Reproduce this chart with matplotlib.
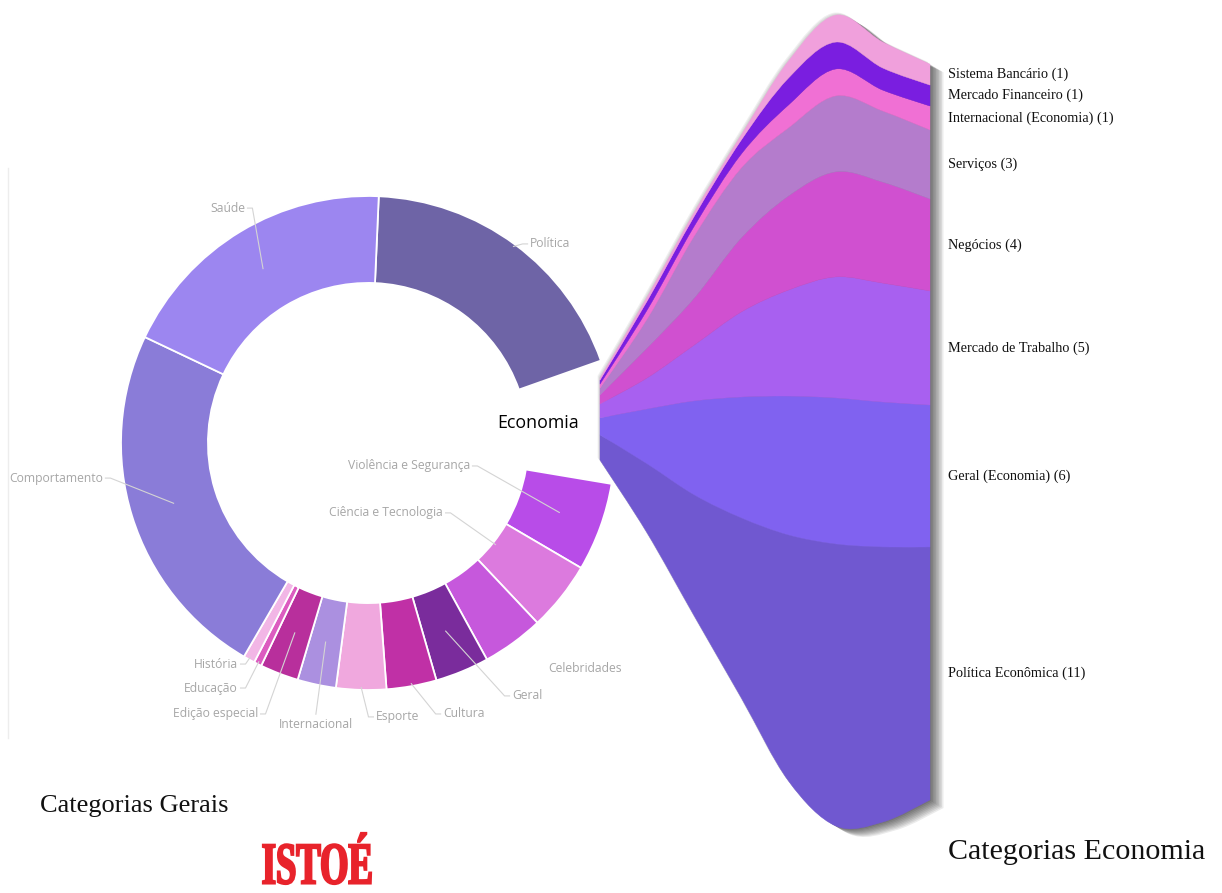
import numpy as np
import matplotlib
matplotlib.use("Agg")
import matplotlib.pyplot as plt
from matplotlib.path import Path
from matplotlib.patches import PathPatch
from matplotlib.textpath import TextPath
from matplotlib.font_manager import FontProperties
from matplotlib.transforms import Affine2D, offset_copy
from matplotlib.lines import Line2D

W, H = 1222, 893

# ---- donut: general categories (clockwise from the top) ----
gerais_labels = ["Política", "Economia", "Violência e Segurança", "Ciência e Tecnologia",
                 "Celebridades", "Geral", "Cultura", "Esporte", "Internacional",
                 "Edição especial", "Educação", "História", "Comportamento", "Saúde"]
gerais_values = [75, 32, 23, 18, 16, 14, 13, 13, 10, 10, 2, 3, 94, 74]
gerais_colors = ["#6e64a6", "#ffffff", "#b84ce8", "#dc7ade", "#c658dc", "#7a2c9c",
                 "#c030a6", "#f0a8de", "#ab90e0", "#b82f9c", "#dc5cc0", "#f2b6e6",
                 "#8a7cd8", "#9c86f0"]

# ---- stream: economy sub-categories (bottom to top) ----
econ_labels = ["Política Econômica", "Geral (Economia)", "Mercado de Trabalho", "Negócios",
               "Serviços", "Internacional (Economia)", "Mercado Financeiro", "Sistema Bancário"]
econ_counts = [11, 6, 5, 4, 3, 1, 1, 1]
econ_colors = ["#7058d0", "#8062f0", "#a860f0", "#d050d0",
               "#b47ccc", "#f070d4", "#7a1ee0", "#f0a0dc"]
stations = [0, 1, 2, 3, 4, 5, 6, 7]
stream_base = [16.0, 12.83, 9.22, 5.65, 2.04, 0.09, 0.26, 1.22]
stream_pe = [1.09, 3.0, 5.26, 7.83, 10.7, 12.26, 11.96, 11.0]
stream_geral = [0.74, 2.39, 4.09, 5.26, 6.04, 6.35, 6.30, 6.17]
stream_trabalho = [0.61, 1.35, 2.43, 3.70, 4.61, 5.26, 5.17, 4.96]
stream_negocios = [0.39, 1.30, 2.04, 3.22, 4.09, 4.57, 4.39, 4.0]
stream_servicos = [0.30, 1.26, 2.70, 3.04, 2.96, 3.30, 3.09, 3.0]
stream_intl = [0.17, 0.39, 0.43, 0.61, 1.0, 1.17, 0.91, 1.04]
stream_financeiro = [0.17, 0.39, 0.43, 0.61, 1.17, 1.17, 0.96, 0.91]
stream_bancario = [0.09, 0.17, 0.17, 0.22, 0.74, 1.17, 1.13, 0.91]
stream_bands = [stream_pe, stream_geral, stream_trabalho, stream_negocios,
                stream_servicos, stream_intl, stream_financeiro, stream_bancario]

fig = plt.figure(figsize=(W / 100, H / 100), dpi=100)
fig.patch.set_facecolor("white")

# faint frame of the donut image
fig.add_artist(Line2D([8 / W, 8 / W], [1 - 168 / H, 1 - 738 / H], color="#ededed", lw=1))

# ---------------- donut ----------------
R = 247
cx, cy = 368, 443
ax = fig.add_axes([(cx - R) / W, (H - cy - R) / H, 2 * R / W, 2 * R / H])
wedges, _ = ax.pie(gerais_values, colors=gerais_colors, startangle=87.5, counterclock=False,
                   radius=1, wedgeprops=dict(width=0.352, edgecolor="white", linewidth=1.3))
wedges[1].set_visible(False)
ax.set_xlim(-1, 1)
ax.set_ylim(-1, 1)
ax.set_aspect("equal")
ax.axis("off")

lab_font = "Open Sans"
lab_color = "#a6a6a6"
# label placement: (x, y, ha, leader radius)
lab_pos = {
    "Saúde": (-0.498, 0.951, "right", 0.824),
    "Política": (0.656, 0.806, "left", 0.99),
    "Comportamento": (-1.073, -0.142, "right", 0.824),
    "Violência e Segurança": (0.413, -0.093, "right", 0.824),
    "Ciência e Tecnologia": (0.304, -0.283, "right", 0.66),
    "Celebridades": (0.729, -0.911, "left", None),
    "Geral": (0.583, -1.024, "left", 0.824),
    "Cultura": (0.304, -1.097, "left", 0.99),
    "Esporte": (0.032, -1.109, "left", 0.99),
    "Internacional": (-0.211, -1.138, "center", 0.824),
    "Edição especial": (-0.445, -1.097, "right", 0.824),
    "Educação": (-0.526, -0.992, "right", 0.99),
    "História": (-0.526, -0.895, "right", 0.99),
}
for w, name in zip(wedges, gerais_labels):
    if name not in lab_pos:
        continue
    lx, ly, ha, rr = lab_pos[name]
    ax.text(lx, ly, name, ha=ha, va="center", fontsize=8.7, color=lab_color,
            family=lab_font, clip_on=False)
    if rr is None:
        continue
    mid = np.deg2rad((w.theta1 + w.theta2) / 2)
    tx, ty = rr * np.cos(mid), rr * np.sin(mid)
    if ha == "right":
        xs, ys = [lx + 0.01, lx + 0.03, tx], [ly, ly, ty]
    elif ha == "left":
        xs, ys = [lx - 0.01, lx - 0.03, tx], [ly, ly, ty]
    else:
        xs, ys = [lx, tx], [ly + 0.04, ty]
    ax.plot(xs, ys, color="#d4d4d4", lw=0.8, clip_on=False, zorder=3)

ax.text(0.688, 0.081, "Economia", ha="center", va="center", fontsize=12.8,
        family=lab_font, color="black", clip_on=False)

# ---------------- stream ----------------
unit = 23.0
ax2 = fig.add_axes([600 / W, (H - 828) / H, 330 / W, 828 / H])
ax2.set_xlim(0, 7)
ax2.set_ylim(0, 828 / unit)
ax2.axis("off")


def catmull(xs, ys):
    n = len(xs)
    pts = []
    for i in range(n - 1):
        i0, i3 = max(i - 1, 0), min(i + 2, n - 1)
        c1 = (xs[i] + (xs[i + 1] - xs[i0]) / 6, ys[i] + (ys[i + 1] - ys[i0]) / 6)
        c2 = (xs[i + 1] - (xs[i3] - xs[i]) / 6, ys[i + 1] - (ys[i3] - ys[i]) / 6)
        pts += [c1, c2, (xs[i + 1], ys[i + 1])]
    return pts


def band_path(xs, lower, upper):
    n = len(xs)
    verts = [(xs[0], lower[0])] + catmull(xs, lower)
    codes = [Path.MOVETO] + [Path.CURVE4] * (3 * (n - 1))
    verts.append((xs[-1], upper[-1]))
    codes.append(Path.LINETO)
    verts += catmull(xs[::-1], upper[::-1])
    codes += [Path.CURVE4] * (3 * (n - 1))
    verts.append((xs[0], lower[0]))
    codes.append(Path.CLOSEPOLY)
    return Path(verts, codes)


xs = list(stations)
base = np.array(stream_base)
tops = base + np.cumsum(np.array(stream_bands), axis=0)[-1]
outline = band_path(xs, list(base), list(tops))

# soft drop shadow
for k in range(1, 10):
    tr = offset_copy(ax2.transData, fig=fig, x=1.5 * k, y=-0.9 * k, units="dots")
    ax2.add_patch(PathPatch(outline, transform=tr, facecolor="black", edgecolor="none",
                            alpha=0.08, zorder=1, clip_on=False))
for k in range(1, 4):
    tr = offset_copy(ax2.transData, fig=fig, x=-0.8 * k, y=0.8 * k, units="dots")
    ax2.add_patch(PathPatch(outline, transform=tr, facecolor="black", edgecolor="none",
                            alpha=0.06, zorder=1, clip_on=False))

lower = base.copy()
for vals, col, name, cnt in zip(stream_bands, econ_colors, econ_labels, econ_counts):
    upper = lower + np.array(vals)
    ax2.add_patch(PathPatch(band_path(xs, list(lower), list(upper)), facecolor=col,
                            edgecolor=col, lw=0.3, zorder=2, clip_on=False))
    mid = (lower[-1] + upper[-1]) / 2
    ax2.annotate(f"{name} ({cnt})", xy=(xs[-1], mid), xytext=(18, 0),
                 textcoords="offset pixels", va="center", ha="left", fontsize=10.3,
                 family="Liberation Serif", color="#111111", annotation_clip=False)
    lower = upper

# ---------------- titles and logo ----------------
fig.text(40 / W, 1 - 806 / H, "Categorias Gerais", fontsize=19, family="Liberation Serif",
         va="center", ha="left", color="#111111")
fig.text(948 / W, 1 - 852 / H, "Categorias Economia", fontsize=21.6, family="Liberation Serif",
         va="center", ha="left", color="#111111")

tp = TextPath((0, 0), "ISTOÉ", size=10,
              prop=FontProperties(family="Liberation Serif", weight="bold"))
bb = tp.get_extents()
lx0, lx1, ly0, ly1 = 263, 371, H - 884, H - 833
logo_tr = (Affine2D().translate(-bb.x0, -bb.y0)
           .scale((lx1 - lx0) / bb.width, (ly1 - ly0) / bb.height)
           .translate(lx0, ly0).scale(1 / W, 1 / H))
logo = PathPatch(logo_tr.transform_path(tp), facecolor="#e8232b", edgecolor="#e8232b",
                 lw=1.6, transform=fig.transFigure)
fig.add_artist(logo)

fig.savefig("out.png", dpi=100, facecolor="white")
